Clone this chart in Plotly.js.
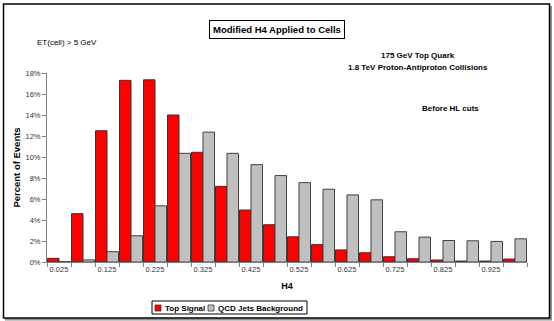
<!DOCTYPE html>
<html>
<head>
<meta charset="utf-8">
<script src="https://cdn.plot.ly/plotly-3.0.1.min.js"></script>
<style>html,body{margin:0;padding:0;background:#fff;}#chart{width:554px;height:321px;}</style>
</head>
<body>
<div id="chart"></div>
<script>
// H4 bin centres
const binCenters = [0.025, 0.075, 0.125, 0.175, 0.225, 0.275, 0.325, 0.375, 0.425, 0.475,
                    0.525, 0.575, 0.625, 0.675, 0.725, 0.775, 0.825, 0.875, 0.925, 0.975];
// Percent of events
const topSignal = [0.35, 4.6, 12.5, 17.3, 17.35, 14.0, 10.45, 7.2, 4.95, 3.55,
                   2.4, 1.65, 1.15, 0.88, 0.5, 0.31, 0.19, 0.09, 0.09, 0.28];
const qcdBackground = [0.03, 0.2, 0.98, 2.5, 5.35, 10.35, 12.37, 10.35, 9.27, 8.23,
                       7.56, 6.93, 6.39, 5.92, 2.88, 2.37, 2.05, 2.02, 1.96, 2.21];
const seriesNames = ['Top Signal', 'QCD Jets Background'];
const seriesColors = ['#FF0000', '#C0C0C0'];
const xTickVals = [0.025, 0.125, 0.225, 0.325, 0.425, 0.525, 0.625, 0.725, 0.825, 0.925];
const xTickText = ['0.025', '0.125', '0.225', '0.325', '0.425', '0.525', '0.625', '0.725', '0.825', '0.925'];
const yTickVals = [0, 2, 4, 6, 8, 10, 12, 14, 16, 18];
const yTickText = ['0%', '2%', '4%', '6%', '8%', '10%', '12%', '14%', '16%', '18%'];

const FONT = 'Liberation Sans, Arial, sans-serif';
const L = 47, R = 27, T = 73, B = 59, W = 554, H = 321;
const PW = W - L - R, PH = H - T - B;
const px = v => (v - L) / PW;
const py = v => (H - B - v) / PH;

const traces = [
  {type: 'bar', name: seriesNames[0], x: binCenters, y: topSignal,
   marker: {color: seriesColors[0], line: {color: '#333333', width: 1}}},
  {type: 'bar', name: seriesNames[1], x: binCenters, y: qcdBackground,
   marker: {color: seriesColors[1], line: {color: '#404040', width: 1}}}
];

// compact legend (Excel style) built from the series names/colours
const legendShapes = [
  {type: 'rect', xref: 'paper', yref: 'paper', x0: px(152), x1: px(307), y0: py(314), y1: py(301),
   line: {color: '#000', width: 1}, fillcolor: '#fff'},
  {type: 'rect', xref: 'paper', yref: 'paper', x0: px(155), x1: px(161), y0: py(311), y1: py(305),
   line: {color: '#333', width: 0.8}, fillcolor: seriesColors[0]},
  {type: 'rect', xref: 'paper', yref: 'paper', x0: px(208), x1: px(214), y0: py(311), y1: py(305),
   line: {color: '#333', width: 0.8}, fillcolor: seriesColors[1]}
];
const legendAnn = [
  {xref: 'paper', yref: 'paper', x: px(163), y: py(308), xanchor: 'left', yanchor: 'middle',
   text: '<b>' + seriesNames[0] + '</b>', showarrow: false, font: {family: FONT, size: 8, color: '#000'}},
  {xref: 'paper', yref: 'paper', x: px(216), y: py(308), xanchor: 'left', yanchor: 'middle',
   text: '<b>' + seriesNames[1] + '</b>', showarrow: false, font: {family: FONT, size: 8, color: '#000'}}
];

const layout = {
  width: W, height: H,
  margin: {l: L, r: R, t: T, b: B},
  paper_bgcolor: '#ffffff', plot_bgcolor: '#ffffff',
  font: {family: FONT, size: 8, color: '#222'},
  barmode: 'group', bargap: 0.04, bargroupgap: 0,
  showlegend: false,
  xaxis: {range: [0, 1], showgrid: false, zeroline: false, showline: true,
          linecolor: '#808080', linewidth: 1,
          tickvals: xTickVals, ticktext: xTickText, ticks: '',
          tickfont: {family: FONT, size: 7.5, color: '#333'},
          minor: {tick0: 0, dtick: 0.05, ticks: 'outside', ticklen: 4, tickcolor: '#808080', showgrid: false},
          title: {text: '<b>H4</b>', font: {family: FONT, size: 9, color: '#000'}, standoff: 9}},
  yaxis: {range: [0, 18], showgrid: false, zeroline: false, showline: true,
          linecolor: '#808080', linewidth: 1,
          tickvals: yTickVals, ticktext: yTickText, ticks: 'outside', ticklen: 4, tickcolor: '#808080',
          tickfont: {family: FONT, size: 7.5, color: '#333'},
          title: {text: '<b>Percent of Events</b>', font: {family: FONT, size: 9.5, color: '#000'}, standoff: 3}},
  shapes: [
    {type: 'line', xref: 'paper', yref: 'paper', x0: px(551), x1: px(551), y0: py(6), y1: py(320),
     line: {color: '#909090', width: 2}},
    {type: 'line', xref: 'paper', yref: 'paper', x0: px(5), x1: px(552), y0: py(319.5), y1: py(319.5),
     line: {color: '#909090', width: 2}},
    {type: 'rect', xref: 'paper', yref: 'paper', x0: px(3.5), x1: px(549.5), y0: py(318), y1: py(4),
     line: {color: '#000', width: 1.5}, fillcolor: 'rgba(0,0,0,0)'}
  ].concat(legendShapes),
  annotations: [
    {xref: 'paper', yref: 'paper', x: px(277), y: py(29), xanchor: 'center', yanchor: 'middle',
     text: '<b>Modified H4 Applied to Cells</b>', showarrow: false,
     font: {family: FONT, size: 9.5, color: '#000'},
     bordercolor: '#000', borderwidth: 1, borderpad: 3, bgcolor: '#fff'},
    {xref: 'paper', yref: 'paper', x: px(35), y: py(43), xanchor: 'left', yanchor: 'middle',
     text: 'ET(cell) > 5 GeV', showarrow: false, font: {family: FONT, size: 8, color: '#000'}},
    {xref: 'paper', yref: 'paper', x: px(418), y: py(56), xanchor: 'center', yanchor: 'middle',
     text: '<b>175 GeV Top Quark</b>', showarrow: false, font: {family: FONT, size: 8, color: '#000'}},
    {xref: 'paper', yref: 'paper', x: px(418), y: py(68), xanchor: 'center', yanchor: 'middle',
     text: '<b>1.8 TeV Proton-Antiproton Collisions</b>', showarrow: false, font: {family: FONT, size: 8, color: '#000'}},
    {xref: 'paper', yref: 'paper', x: px(450), y: py(108), xanchor: 'center', yanchor: 'middle',
     text: '<b>Before HL cuts</b>', showarrow: false, font: {family: FONT, size: 8, color: '#000'}}
  ].concat(legendAnn)
};

Plotly.newPlot('chart', traces, layout, {displayModeBar: false, staticPlot: true});
</script>
</body>
</html>
